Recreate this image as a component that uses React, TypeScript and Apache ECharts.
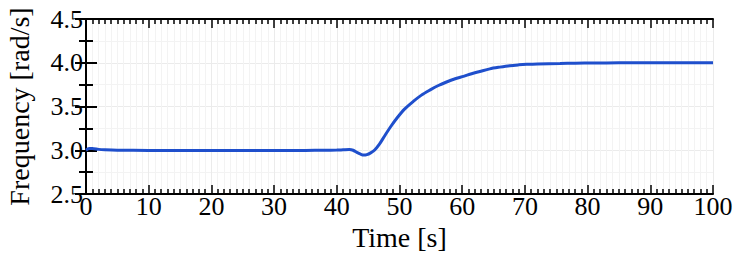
import React, { useEffect, useRef } from "react";
import * as echarts from "echarts";

const timeValues = [0, 0.5, 1, 2, 3, 5, 10, 15, 20, 25, 30, 35, 38, 40, 41, 42, 42.6, 43.2, 43.8, 44.3, 44.8, 45.4, 46, 46.8, 47.6, 48.5, 49.6, 50.8, 52.2, 53.5, 54.9, 56.2, 57.5, 59, 60.2, 61.5, 62.8, 64.4, 66, 67.6, 69, 70.3, 72, 75.6, 78, 81, 85, 90, 95, 100];
const frequencyValues = [3.0, 3.02, 3.02, 3.01, 3.005, 3.0, 2.998, 2.997, 2.997, 2.998, 2.998, 2.998, 3.0, 3.002, 3.005, 3.008, 3.0, 2.975, 2.955, 2.945, 2.95, 2.97, 3.0, 3.07, 3.16, 3.26, 3.368, 3.47, 3.558, 3.63, 3.69, 3.74, 3.78, 3.82, 3.845, 3.875, 3.9, 3.93, 3.95, 3.967, 3.976, 3.982, 3.987, 3.992, 3.995, 3.997, 3.999, 4.0, 4.0, 4.0];

const xTicks = { min: 0, max: 100, interval: 10 };
const yTicks = { min: 2.5, max: 4.5, interval: 0.5 };

const FONT = "Liberation Serif";

export default function App() {
  const ref = useRef<HTMLDivElement>(null);
  useEffect(() => {
    if (!ref.current) return;
    const chart = echarts.init(ref.current, null, { renderer: "svg" });
    const axisLine = { show: true, lineStyle: { color: "#000", width: 2 } };
    const splitLine = { show: true, lineStyle: { color: "#ebebeb", width: 1 } };
    const minorSplitLine = { show: true, lineStyle: { color: "#f3f3f3", width: 1 } };
    chart.setOption({
      animation: false,
      grid: { left: 86, right: 34, top: 19, bottom: 66, outerBoundsMode: "none", containLabel: false },
      xAxis: [
        {
          type: "value",
          ...xTicks,
          name: "Time [s]",
          nameLocation: "middle",
          nameGap: 22,
          nameTextStyle: { fontFamily: FONT, fontSize: 28, color: "#000" },
          axisLine,
          axisTick: { show: true, inside: true, length: 9, lineStyle: { color: "#000", width: 1.5 } },
          minorTick: { show: true, splitNumber: 10, length: 5, lineStyle: { color: "#000", width: 1.5 } },
          axisLabel: { fontFamily: FONT, fontSize: 26, color: "#000", margin: -1 },
          splitLine,
          minorSplitLine,
        },
        {
          type: "value",
          position: "top",
          ...xTicks,
          axisLine,
          axisTick: { show: true, inside: true, length: 9, lineStyle: { color: "#000", width: 1.5 } },
          minorTick: { show: true, splitNumber: 10, length: 5, lineStyle: { color: "#000", width: 1.5 } },
          axisLabel: { show: false },
          splitLine: { show: false },
        },
      ],
      yAxis: [
        {
          type: "value",
          ...yTicks,
          name: "Frequency [rad/s]",
          nameLocation: "middle",
          nameGap: 53,
          nameTextStyle: { fontFamily: FONT, fontSize: 28, color: "#000" },
          axisLine,
          axisTick: { show: true, inside: true, length: 11, lineStyle: { color: "#000", width: 2 } },
          minorTick: { show: true, splitNumber: 2, length: 7, lineStyle: { color: "#000", width: 2 } },
          axisLabel: { fontFamily: FONT, fontSize: 26, color: "#000", margin: 3, formatter: (v: number) => v.toFixed(1) },
          splitLine,
          minorSplitLine,
        },
        {
          type: "value",
          position: "right",
          ...yTicks,
          axisLine,
          axisTick: { show: true, inside: true, length: 11, lineStyle: { color: "#000", width: 2 } },
          minorTick: { show: true, splitNumber: 2, length: 7, lineStyle: { color: "#000", width: 2 } },
          axisLabel: { show: false },
          splitLine: { show: false },
        },
      ],
      series: [
        {
          type: "line",
          data: timeValues.map((t, i) => [t, frequencyValues[i]]),
          smooth: 0.3,
          showSymbol: false,
          lineStyle: { color: "#1f4fcc", width: 3 },
        },
      ],
    });
    return () => chart.dispose();
  }, []);
  return <div ref={ref} style={{ width: 747, height: 260, margin: -8 }} />;
}
